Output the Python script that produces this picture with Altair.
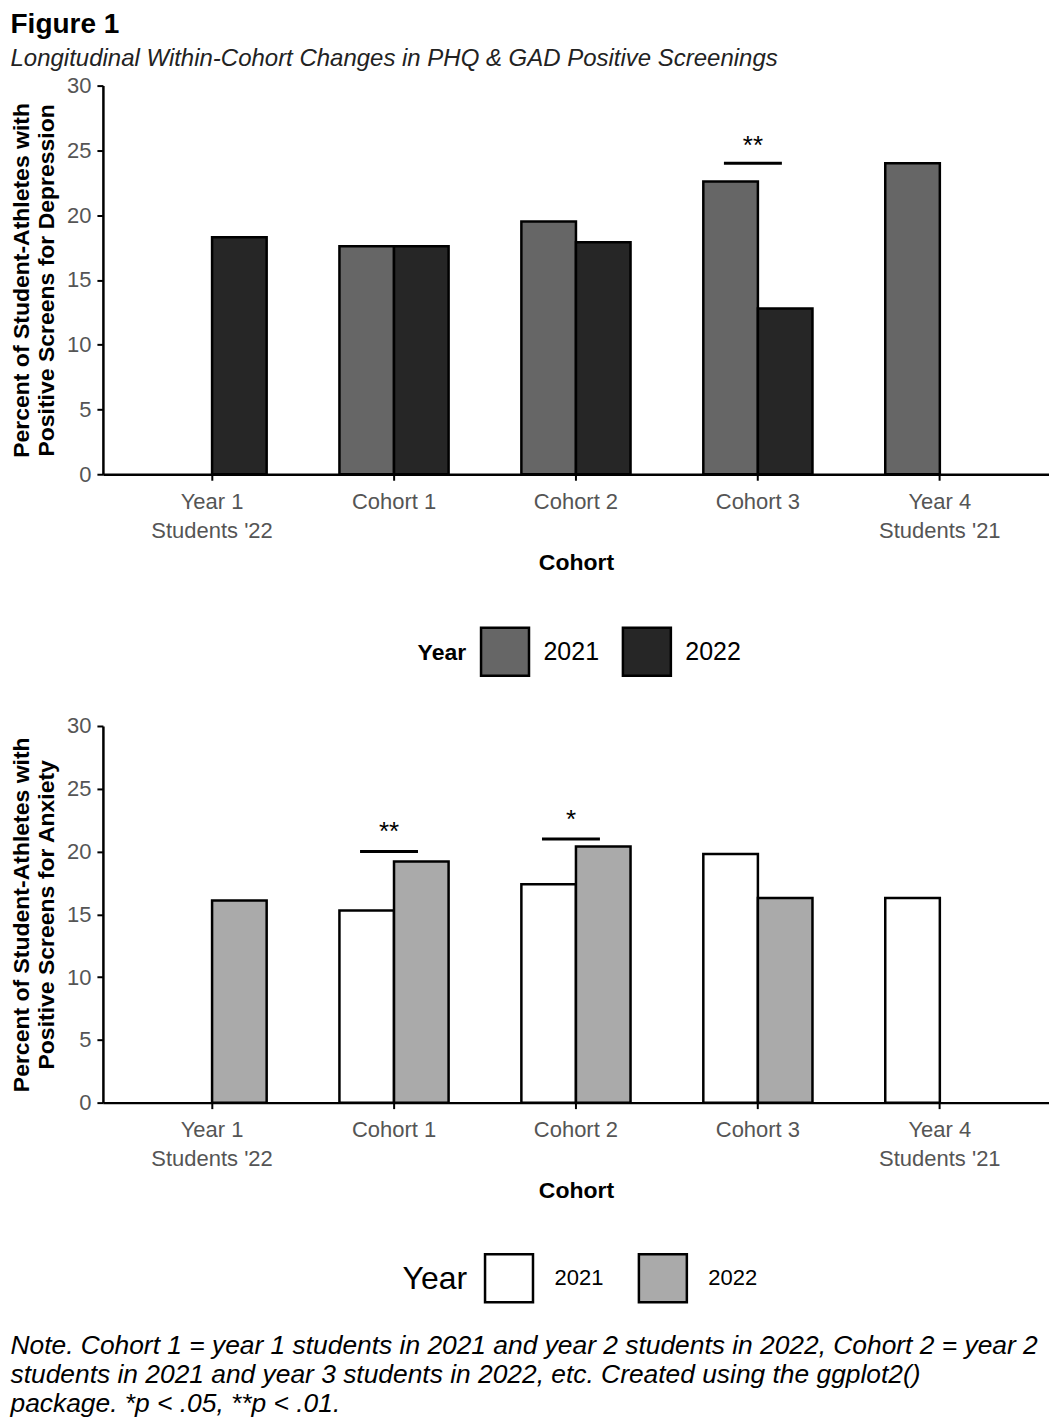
import altair as alt
import pandas as pd

FONT = "Liberation Sans"

cohorts = ["Year 1\nStudents '22", "Cohort 1", "Cohort 2", "Cohort 3", "Year 4\nStudents '21"]
years = ["2021", "2022"]

bar_cohort = [cohorts[0], cohorts[1], cohorts[1], cohorts[2], cohorts[2], cohorts[3], cohorts[3], cohorts[4]]
bar_year = ["2022", "2021", "2022", "2021", "2022", "2021", "2022", "2021"]

dep_value = [18.3, 17.6, 17.6, 19.5, 17.9, 22.6, 12.8, 24.0]
anx_value = [16.1, 15.3, 19.2, 17.4, 20.4, 19.8, 16.3, 16.3]

dep_sig_cohort = ["Cohort 3"]
dep_sig_line = [24.0]
dep_sig_text_y = [24.75]
dep_sig_label = ["**"]

anx_sig_cohort = ["Cohort 1", "Cohort 2"]
anx_sig_line = [20.0, 21.0]
anx_sig_text_y = [20.9, 21.85]
anx_sig_label = ["**", "*"]

dep_colors = ["#666666", "#262626"]
anx_colors = ["#ffffff", "#aaaaaa"]

y_ticks = [0, 5, 10, 15, 20, 25, 30]

note_lines = [
    "Note. Cohort 1 = year 1 students in 2021 and year 2 students in 2022, Cohort 2 = year 2",
    "students in 2021 and year 3 students in 2022, etc. Created using the ggplot2()",
    "package. *p < .05, **p < .01.",
]

W = 947


def panel(values, sig_cohort, sig_line, sig_text_y, sig_label, colors, ytitle, legend, height):
    df = pd.DataFrame({"Cohort": bar_cohort, "Year": bar_year, "Value": values})
    sig = pd.DataFrame({"Cohort": sig_cohort, "Line": sig_line, "TextY": sig_text_y, "Label": sig_label})

    xscale = alt.Scale(domain=cohorts, paddingInner=0.4, paddingOuter=0.3)
    yscale = alt.Scale(domain=[0, 30], nice=False, zero=True)

    xaxis = alt.Axis(
        title="Cohort", labelAngle=0, labelExpr="split(datum.label, '\\n')",
        labelFontSize=22, labelColor="#555555", labelFont=FONT, labelLineHeight=29,
        labelPadding=11, tickSize=6, tickColor="black", tickWidth=2,
        domainColor="black", domainWidth=2.5, titleFontSize=23, titleFont=FONT,
        titleFontWeight="bold", titleColor="black", titlePadding=10, grid=False,
    )
    yaxis = alt.Axis(
        title=ytitle, values=y_ticks, labelFontSize=22, labelColor="#555555", labelFont=FONT,
        labelPadding=6, tickSize=6, tickColor="black", tickWidth=2, domainColor="black",
        domainWidth=2.5, titleFontSize=23, titleFont=FONT, titleFontWeight="bold",
        titleColor="black", titlePadding=8, titleLineHeight=25, grid=False,
    )

    bars = alt.Chart(df).mark_bar(stroke="black", strokeWidth=2.5, opacity=1).encode(
        x=alt.X("Cohort:N", scale=xscale, axis=xaxis, sort=cohorts),
        xOffset=alt.XOffset("Year:N", scale=alt.Scale(domain=years, paddingInner=0, paddingOuter=0)),
        y=alt.Y("Value:Q", scale=yscale, axis=yaxis),
        color=alt.Color("Year:N", scale=alt.Scale(domain=years, range=colors), legend=legend),
    )
    lines = alt.Chart(sig).mark_tick(
        orient="horizontal", size=58, thickness=3, color="black", opacity=1, xOffset=-5
    ).encode(
        x=alt.X("Cohort:N", scale=xscale, sort=cohorts),
        y=alt.Y("Line:Q", scale=yscale),
    )
    stars = alt.Chart(sig).mark_text(
        fontSize=26, font=FONT, color="black", baseline="alphabetic", align="center", xOffset=-5
    ).encode(
        x=alt.X("Cohort:N", scale=xscale, sort=cohorts),
        y=alt.Y("TextY:Q", scale=yscale),
        text="Label:N",
    )
    return alt.layer(bars, lines, stars).properties(width=W, height=height)


dep_legend = alt.Legend(
    orient="none", legendX=315, legendY=541, direction="horizontal", titleOrient="left",
    title="Year", symbolType="square", symbolSize=2304, symbolStrokeColor="black",
    symbolStrokeWidth=2.5, symbolOpacity=1, labelFontSize=25, labelFont=FONT,
    labelColor="black", titleFontSize=23, titleFont=FONT, titleFontWeight="bold",
    titleColor="black", labelOffset=13, columnPadding=18, titlePadding=13, padding=0,
    titleBaseline="middle", titleAnchor="middle",
)
anx_legend = alt.Legend(
    orient="none", legendX=300, legendY=527, direction="horizontal", titleOrient="left",
    title="Year", symbolType="square", symbolSize=2304, symbolStrokeColor="black",
    symbolStrokeWidth=2.5, symbolOpacity=1, labelFontSize=22, labelFont=FONT,
    labelColor="black", titleFontSize=32, titleFont=FONT, titleFontWeight="normal",
    titleColor="black", labelOffset=20, columnPadding=30, titlePadding=16, padding=0,
    titleBaseline="middle", titleAnchor="middle",
)

top = panel(dep_value, dep_sig_cohort, dep_sig_line, dep_sig_text_y, dep_sig_label, dep_colors,
            ["Percent of Student-Athletes with", "Positive Screens for Depression"], dep_legend, 389)
bottom = panel(anx_value, anx_sig_cohort, anx_sig_line, anx_sig_text_y, anx_sig_label, anx_colors,
               ["Percent of Student-Athletes with", "Positive Screens for Anxiety"], anx_legend, 377)

inner = alt.vconcat(top, bottom, spacing=34).resolve_scale(color="independent").properties(
    title=alt.TitleParams(
        "Figure 1",
        subtitle="Longitudinal Within-Cohort Changes in PHQ & GAD Positive Screenings",
        anchor="start", frame="bounds", font=FONT, fontSize=28, fontWeight="bold", color="black",
        subtitleFont=FONT, subtitleFontSize=24, subtitleFontStyle="italic",
        subtitleColor="#222222", subtitlePadding=8, offset=4,
    ),
)

chart = alt.vconcat(inner).properties(
    title=alt.TitleParams(
        note_lines, orient="bottom", anchor="start", frame="bounds", font=FONT,
        fontSize=26.4, fontWeight="normal", fontStyle="italic", color="black",
        lineHeight=29, offset=26, baseline="top",
    ),
    padding={"left": 2, "top": 2, "right": 0, "bottom": 0},
).configure_view(stroke=None)

chart.save("out.html", embed_options={"renderer": "svg", "actions": False})
